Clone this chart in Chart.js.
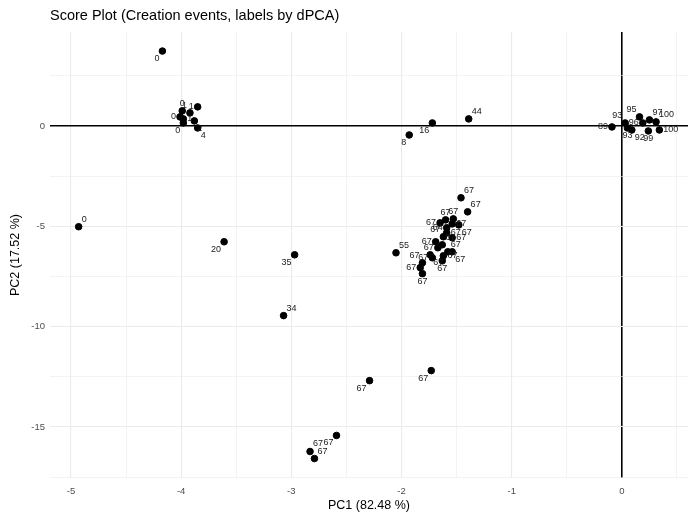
<!DOCTYPE html>
<html>
<head>
<meta charset="utf-8">
<script src="https://cdn.jsdelivr.net/npm/chart.js@4.4.0/dist/chart.umd.min.js"></script>
<style>
  html, body { margin: 0; padding: 0; background: #fff; }
  #wrap { width: 699px; height: 514px; }
</style>
</head>
<body>
<div id="wrap"><canvas id="scorePlot" width="699" height="514"></canvas></div>
<script>
// score values
let pc1 = [-4.17, -3.85, -3.99, -3.92, -4.01, -3.98, -3.88, -3.98, -3.85,
    -1.93, -1.72, -1.39,
    -0.09, 0.03, 0.05, 0.09, 0.16, 0.19, 0.25, 0.31, 0.24, 0.34,
    -4.93, -3.61, -2.97, -3.07, -2.05,
    -2.29, -1.73, -2.59, -2.83, -2.79,
    -1.46, -1.40, -1.65, -1.60, -1.53, -1.54, -1.48, -1.59, -1.59, -1.62, -1.54,
    -1.69, -1.63, -1.67, -1.58, -1.62, -1.74, -1.72, -1.63, -1.81, -1.83, -1.81, -1.54]
let pc2 = [3.73, 0.95, 0.75, 0.65, 0.45, 0.35, 0.25, 0.15, -0.10,
    -0.45, 0.15, 0.35,
    -0.05, 0.15, -0.10, -0.20, 0.45, 0.15, 0.30, 0.20, -0.25, -0.20,
    -5.02, -5.77, -6.42, -9.45, -6.32,
    -12.69, -12.19, -15.42, -16.22, -16.57,
    -3.58, -4.28, -4.83, -4.68, -4.63, -4.88, -4.93, -5.07, -5.32, -5.52, -5.57,
    -5.77, -5.92, -6.07, -6.27, -6.47, -6.42, -6.57, -6.72, -6.82, -7.06, -7.36, -6.27]
let dpca = ['0', '1', '0', '1', '0', '1', '2', '0', '4',
    '8', '16', '44',
    '89', '93', '93', '92', '95', '96', '97', '100', '99', '100',
    '0', '20', '35', '34', '55',
    '67', '67', '67', '67', '67',
    '67', '67', '67', '67', '67', '67', '67', '64', '67', '67', '67',
    '67', '67', '67', '67', '67', '67', '67', '67', '67', '67', '67', '67']

// where each text sits around its point
let labelSide = ['dl', 'l', 'u', 'ul', 'l', 'r', 'dr', 'dl', 'dr',
    'dl', 'dl', 'ur',
    'l', 'ul', 'd', 'dr', 'ul', 'l', 'ur', 'ur', 'd', 'r',
    'ur', 'dl', 'dl', 'ur', 'ur',
    'dl', 'dl', 'dl', 'ur', 'ur',
    'ur', 'ur', 'l', 'u', 'u', 'r', 'dr', 'l', 'r', 'ul', 'r',
    'l', 'ur', 'l', 'ur', 'r', 'dr', 'l', 'd', 'ul', 'l', 'd', 'dr']

let xTicks = [-5, -4, -3, -2, -1, 0]
let yTicks = [-15, -10, -5, 0]

const xRange = [-5.19, 0.6]
const yRange = [-17.54, 4.68]

function withMinor(major, half, range) {
    let all = []
    major.forEach(v => { all.push(v - half); all.push(v) })
    all.push(major[major.length - 1] + half)
    return all.filter(v => v >= range[0] && v <= range[1])
}

let points = pc1.map((v, i) => ({ x: v, y: pc2[i] }))

const pointLabels = {
    id: 'pointLabels',
    afterDatasetsDraw(chart) {
        const ctx = chart.ctx
        const meta = chart.getDatasetMeta(0)
        ctx.save()
        ctx.font = '9px "Liberation Sans", Arial, sans-serif'
        ctx.fillStyle = '#1a1a1a'
        meta.data.forEach((el, i) => {
            let side = labelSide[i] || 'ur'
            let x = el.x, y = el.y
            let align = 'left', base = 'middle'
            if (side.includes('u')) { y -= 3; base = 'bottom' }
            if (side.includes('d')) { y += 3; base = 'top' }
            if (side.includes('r')) { x += 3; align = 'left' }
            else if (side.includes('l')) { x -= 3; align = 'right' }
            else align = 'center'
            if (side == 'l') x -= 1
            if (side == 'r') x += 1
            ctx.textAlign = align
            ctx.textBaseline = base
            ctx.fillText(dpca[i], x, y)
        })
        ctx.restore()
    }
}

const plotTitle = {
    id: 'plotTitle',
    afterDraw(chart) {
        const ctx = chart.ctx
        ctx.save()
        ctx.font = '14.5px "Liberation Sans", Arial, sans-serif'
        ctx.fillStyle = '#000'
        ctx.textAlign = 'left'
        ctx.textBaseline = 'middle'
        ctx.fillText('Score Plot (Creation events, labels by dPCA)', 50, 16)
        ctx.restore()
    }
}

function gridColor(c) {
    return c.tick && c.tick.value === 0 ? '#000000' : '#ebebeb'
}

function gridWidth(major) {
    return function(c) {
        if (!c.tick) return 1
        if (c.tick.value === 0) return 1.6
        return major.includes(c.tick.value) ? 1.1 : 0.6
    }
}

const canvas = document.getElementById('scorePlot')
new Chart(canvas, {
    type: 'scatter',
    data: {
        datasets: [{
            label: 'scores',
            data: points,
            backgroundColor: '#000',
            borderColor: '#000',
            pointRadius: 3.3,
            pointHoverRadius: 3.3
        }]
    },
    plugins: [pointLabels, plotTitle],
    options: {
        responsive: false,
        animation: false,
        layout: { padding: { top: 32, right: 11, left: 0, bottom: 0 } },
        plugins: {
            legend: { display: false },
            tooltip: { enabled: false }
        },
        scales: {
            x: {
                type: 'linear',
                min: xRange[0],
                max: xRange[1],
                afterBuildTicks: axis => { axis.ticks = withMinor(xTicks, 0.5, xRange).map(v => ({ value: v })) },
                afterFit: axis => { axis.height = 36 },
                border: { display: false },
                grid: { color: gridColor, lineWidth: gridWidth(xTicks), drawTicks: false },
                ticks: {
                    autoSkip: false,
                    maxRotation: 0,
                    padding: 8,
                    color: '#4d4d4d',
                    font: { family: '"Liberation Sans", Arial, sans-serif', size: 9.5 },
                    callback: v => xTicks.includes(v) ? String(v) : ''
                },
                title: {
                    display: true,
                    text: 'PC1 (82.48 %)',
                    color: '#000',
                    font: { family: '"Liberation Sans", Arial, sans-serif', size: 12.5 },
                    padding: { top: 0, bottom: 1 }
                }
            },
            y: {
                type: 'linear',
                min: yRange[0],
                max: yRange[1],
                afterBuildTicks: axis => { axis.ticks = withMinor(yTicks, 2.5, yRange).map(v => ({ value: v })) },
                afterFit: axis => { axis.width = 50 },
                border: { display: false },
                grid: { color: gridColor, lineWidth: gridWidth(yTicks), drawTicks: false },
                ticks: {
                    autoSkip: false,
                    padding: 5,
                    color: '#4d4d4d',
                    font: { family: '"Liberation Sans", Arial, sans-serif', size: 9.5 },
                    callback: v => yTicks.includes(v) ? String(v) : ''
                },
                title: {
                    display: true,
                    text: 'PC2 (17.52 %)',
                    color: '#000',
                    font: { family: '"Liberation Sans", Arial, sans-serif', size: 12.5 },
                    padding: { top: 8, bottom: 0 }
                }
            }
        }
    }
})
</script>
</body>
</html>
